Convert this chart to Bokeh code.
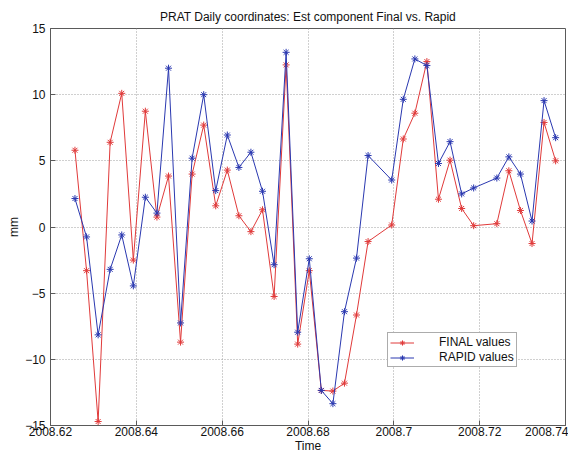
from bokeh.plotting import figure
from bokeh.models import Range1d, FixedTicker, Legend, LegendItem
from bokeh.embed import file_html
from bokeh.resources import INLINE

# ---- data ----
title_text = "PRAT Daily coordinates: Est component Final vs. Rapid"
x_label = "Time"
y_label = "mm"

dates = [2008.6257, 2008.6284, 2008.6311, 2008.6339, 2008.6366, 2008.6393,
         2008.6421, 2008.6448, 2008.6475, 2008.6503, 2008.6530, 2008.6557,
         2008.6585, 2008.6612, 2008.6639, 2008.6667, 2008.6694, 2008.6721,
         2008.6749, 2008.6776, 2008.6803, 2008.6831, 2008.6858, 2008.6885,
         2008.6913, 2008.6940, 2008.6995, 2008.7022, 2008.7049, 2008.7077,
         2008.7104, 2008.7131, 2008.7158, 2008.7186, 2008.7240, 2008.7268,
         2008.7295, 2008.7322, 2008.7350, 2008.7377]

final_values = [5.8, -3.3, -14.7, 6.4, 10.1, -2.5, 8.75, 0.75, 3.85, -8.7,
                4.0, 7.7, 1.6, 4.3, 0.85, -0.35, 1.3, -5.25, 12.25, -8.85,
                -3.3, -12.35, -12.4, -11.8, -6.65, -1.1, 0.15, 6.65, 8.6, 12.5,
                2.1, 5.05, 1.4, 0.1, 0.25, 4.25, 1.25, -1.25, 7.9, 5.0]

rapid_values = [2.15, -0.75, -8.15, -3.2, -0.6, -4.45, 2.25, 1.05, 12.0, -7.25,
                5.2, 10.0, 2.75, 6.95, 4.5, 5.65, 2.7, -2.85, 13.2, -7.95,
                -2.4, -12.35, -13.35, -6.4, -2.35, 5.4, 3.55, 9.65, 12.7, 12.2,
                4.8, 6.45, 2.5, 2.95, 3.7, 5.3, 4.0, 0.45, 9.55, 6.75]

x_ticks = [2008.62, 2008.64, 2008.66, 2008.68, 2008.70, 2008.72, 2008.74]
x_tick_labels = ["2008.62", "2008.64", "2008.66", "2008.68", "2008.7", "2008.72", "2008.74"]
y_ticks = [-15, -10, -5, 0, 5, 10, 15]

series_names = ["FINAL values", "RAPID values"]

# ---- styling ----
FONT = "Liberation Sans"
RED = "#e03a3a"
BLUE = "#2a38b0"
AXIS_COL = "#5a5a5a"
GRID_COL = "#a0a0a0"

p = figure(width=568, height=455, output_backend="svg", toolbar_location=None,
           x_range=Range1d(2008.62, 2008.74), y_range=Range1d(-15, 15),
           min_border_left=50, min_border_right=3, min_border_top=28,
           min_border_bottom=5, title=title_text)

p.title.text_font = FONT
p.title.text_font_size = "12px"
p.title.text_font_style = "normal"
p.title.align = "center"
p.title.text_color = "#111111"
p.title.standoff = 10

p.background_fill_color = "white"
p.border_fill_color = "white"
p.outline_line_color = AXIS_COL
p.outline_line_width = 1

labels_map = {t: s for t, s in zip(x_ticks, x_tick_labels)}

for ax in p.xaxis:
    ax.ticker = FixedTicker(ticks=x_ticks)
    ax.major_label_overrides = labels_map
    ax.axis_label = x_label
    ax.axis_label_standoff = 0
    ax.major_label_standoff = 1
for ax in p.yaxis:
    ax.ticker = FixedTicker(ticks=y_ticks)
    ax.axis_label = y_label
    ax.axis_label_standoff = 1
    ax.major_label_standoff = 5

for ax in list(p.xaxis) + list(p.yaxis):
    ax.axis_line_color = AXIS_COL
    ax.major_tick_line_color = AXIS_COL
    ax.major_tick_in = 5
    ax.major_tick_out = 0
    ax.minor_tick_line_color = None
    ax.major_label_text_font = FONT
    ax.major_label_text_font_size = "12px"
    ax.major_label_text_color = "#111111"
    ax.axis_label_text_font = FONT
    ax.axis_label_text_font_size = "12px"
    ax.axis_label_text_font_style = "normal"
    ax.axis_label_text_color = "#111111"

for g in p.grid:
    g.grid_line_color = GRID_COL
    g.grid_line_dash = "1 2"
    g.grid_line_width = 1
p.xgrid.ticker = FixedTicker(ticks=x_ticks)
p.ygrid.ticker = FixedTicker(ticks=y_ticks)

r_line = p.line(dates, final_values, line_color=RED, line_width=1)
r_pts = p.scatter(dates, final_values, marker="asterisk", size=7, line_color=RED, line_width=1)
b_line = p.line(dates, rapid_values, line_color=BLUE, line_width=1)
b_pts = p.scatter(dates, rapid_values, marker="asterisk", size=7, line_color=BLUE, line_width=1)

legend = Legend(items=[LegendItem(label=series_names[0], renderers=[r_line, r_pts]),
                       LegendItem(label=series_names[1], renderers=[b_line, b_pts])],
                location=(337, 58))
legend.label_text_font = FONT
legend.label_text_font_size = "12px"
legend.label_text_color = "#111111"
legend.label_height = 13
legend.glyph_height = 13
legend.glyph_width = 24
legend.label_standoff = 25
legend.padding = 2
legend.spacing = 1
legend.margin = 0
legend.border_line_color = AXIS_COL
legend.border_line_width = 1
legend.background_fill_color = "white"
legend.background_fill_alpha = 1
p.add_layout(legend, "center")

open("out.html", "w").write(file_html(p, INLINE))
